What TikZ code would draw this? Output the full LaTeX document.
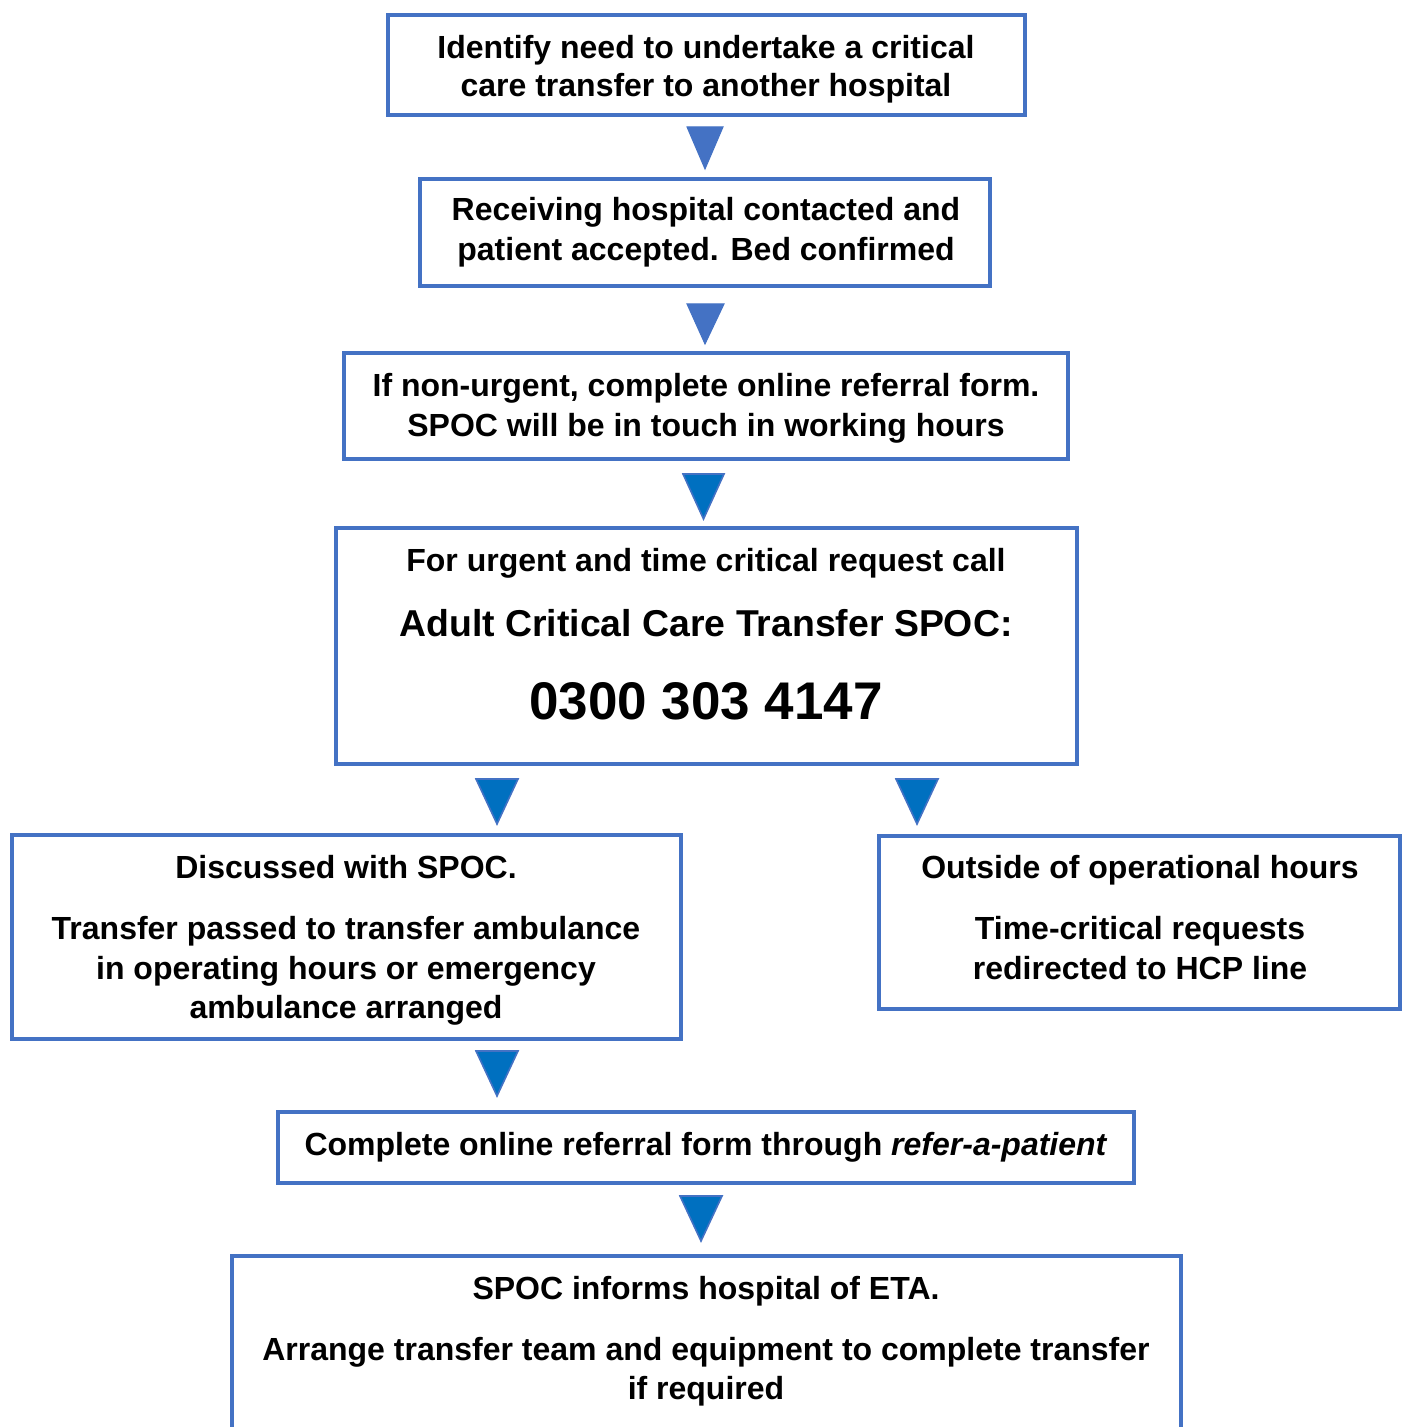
\documentclass[tikz,border=0pt]{standalone}
\usepackage{fontspec}
\setmainfont{Liberation Sans}
\definecolor{boxblue}{HTML}{4472C4}
\definecolor{arrblue}{HTML}{0070C0}
\tikzset{
  box/.style={draw=boxblue, line width=2.4pt, fill=white, inner sep=0pt, rectangle},
  txt/.style={anchor=base, inner sep=0pt, font=\fontsize{16}{19}\selectfont\bfseries},
  tri/.style={fill=boxblue, draw=boxblue, line width=0.5pt, line join=miter},
  tribl/.style={fill=arrblue, draw=boxblue, line width=0.8pt, line join=miter}
}
\begin{document}
\begin{tikzpicture}[x=0.5pt,y=-0.5pt]
\useasboundingbox (0,0) rectangle (1403,1427);
\clip (0,0) rectangle (1403,1427);
% boxes
\node[box, minimum width=318.5pt, minimum height=50pt] (b1) at (706.5,65) {};
\node[box, minimum width=285pt, minimum height=53.5pt] (b2) at (705,232.5) {};
\node[box, minimum width=362pt, minimum height=53pt] (b3) at (706,406) {};
\node[box, minimum width=370.5pt, minimum height=118pt] (b4) at (706.5,646) {};
\node[box, minimum width=334.5pt, minimum height=102pt] (b5) at (346.5,937) {};
\node[box, minimum width=260.5pt, minimum height=86.5pt] (b6) at (1139.5,922.5) {};
\node[box, minimum width=428pt, minimum height=35.5pt] (b7) at (706,1147.5) {};
\node[box, minimum width=474.5pt, minimum height=102pt] (b8) at (706.5,1358) {};
% texts
\node[txt] (t1a) at (706,58.5) {Identify need to undertake a critical};
\node[txt] (t1b) at (706,96.5) {care transfer to another hospital};
\node[txt] (t2a) at (706,220.5) {Receiving hospital contacted and};
\node[txt] (t2b) at (706,260.5) {patient accepted. Bed confirmed};
\node[txt] (t3a) at (706,396.5) {If non-urgent, complete online referral form.};
\node[txt] (t3b) at (706,436.5) {SPOC will be in touch in working hours};
\node[txt] (t4a) at (706,571.5) {For urgent and time critical request call};
\node[txt, font=\fontsize{18.7}{22}\selectfont\bfseries] (t4b) at (706,636) {Adult Critical Care Transfer SPOC:};
\node[txt, font=\fontsize{26.5}{30}\selectfont\bfseries] (t4c) at (706,719) {0300 303 4147};
\node[txt] (t5a) at (346,878.5) {Discussed with SPOC.};
\node[txt] (t5b) at (346,939.5) {Transfer passed to transfer ambulance};
\node[txt] (t5c) at (346,979.5) {in operating hours or emergency};
\node[txt] (t5d) at (346,1018.5) {ambulance arranged};
\node[txt] (t6a) at (1140,878.5) {Outside of operational hours};
\node[txt] (t6b) at (1140,939.5) {Time-critical requests};
\node[txt] (t6c) at (1140,979.5) {redirected to HCP line};
\node[txt] (t7a) at (706,1155.5) {Complete online referral form through \textit{refer-a-patient}};
\node[txt] (t8a) at (706,1299.5) {SPOC informs hospital of ETA.};
\node[txt] (t8b) at (706,1360.5) {Arrange transfer team and equipment to complete transfer};
\node[txt] (t8c) at (706,1399.5) {if required};
% arrowheads
\filldraw[tri] (687,127) -- (723,127) -- (705,169) -- cycle;
\filldraw[tri] (687,304) -- (724,304) -- (705,344) -- cycle;
\filldraw[tribl] (683,474) -- (724,474) -- (703.5,519) -- cycle;
\filldraw[tribl] (476,779) -- (518,779) -- (497,824) -- cycle;
\filldraw[tribl] (896,779) -- (938,779) -- (917,824) -- cycle;
\filldraw[tribl] (476,1051) -- (518,1051) -- (497,1096) -- cycle;
\filldraw[tribl] (680,1196) -- (722,1196) -- (701,1241) -- cycle;
\end{tikzpicture}
\end{document}
